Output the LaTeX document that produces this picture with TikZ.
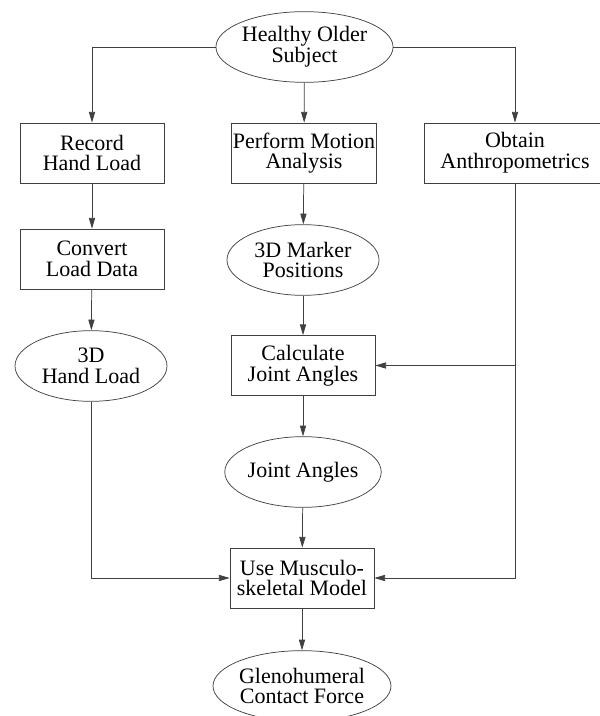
\documentclass[tikz,border=0pt]{standalone}
\usepackage{fontspec}
\setmainfont{Liberation Serif}
\usetikzlibrary{arrows.meta,shapes.geometric}

\begin{document}
\begin{tikzpicture}[
    x=0.75pt,y=-0.75pt,
    >={Triangle[length=8pt,width=4.6pt]},
    flow/.style={->,line width=0.55pt,draw=black!75},
    stepbox/.style={draw=black!75,line width=0.55pt,rectangle,inner sep=0pt,
      minimum width=108pt,minimum height=45pt,align=center,
      font=\fontsize{16.5}{15.5}\selectfont},
    result/.style={draw=black!75,line width=0.55pt,ellipse,inner sep=0pt,
      minimum width=114pt,minimum height=53pt,align=center,
      font=\fontsize{16.5}{15.5}\selectfont}
  ]
    \useasboundingbox (0,0) rectangle (599,716);

    \node[result] (subject) at (304.5,47) {Healthy Older\\Subject};

    \node[stepbox] (record) at (92,153) {Record\\Hand Load};
    \node[stepbox] (convert) at (92,259) {Convert\\Load Data};
    \node[result] (handload) at (91,366) {3D\\Hand Load};

    \node[stepbox,minimum width=109pt] (motion) at (304,153) {Perform Motion\\Analysis};
    \node[result] (markers) at (303,260) {3D Marker\\Positions};
    \node[stepbox] (calcangles) at (303,365.5) {Calculate\\Joint Angles};
    \node[result] (angles) at (303,472) {Joint Angles};
    \node[stepbox] (model) at (302,578) {Use Musculo-\\skeletal Model};
    \node[result] (contact) at (302,686) {Glenohumeral\\Contact Force};

    \node[stepbox,minimum width=136pt] (anthro) at (515,153) {Obtain\\Anthropometrics};

    \draw[flow] (subject) -| (record);
    \draw[flow] (subject) -- (motion);
    \draw[flow] (subject) -| (anthro);
    \draw[flow] (record) -- (convert);
    \draw[flow] (convert) -- (handload);
    \draw[flow] (motion) -- (markers);
    \draw[flow] (markers) -- (calcangles);
    \draw[flow] (calcangles) -- (angles);
    \draw[flow] (angles) -- (model);
    \draw[flow] (model) -- (contact);
    \draw[flow] (handload) |- (model);
    \draw[flow] (anthro) |- (calcangles);
    \draw[flow] (anthro) |- (model);
  \end{tikzpicture}
\end{document}
